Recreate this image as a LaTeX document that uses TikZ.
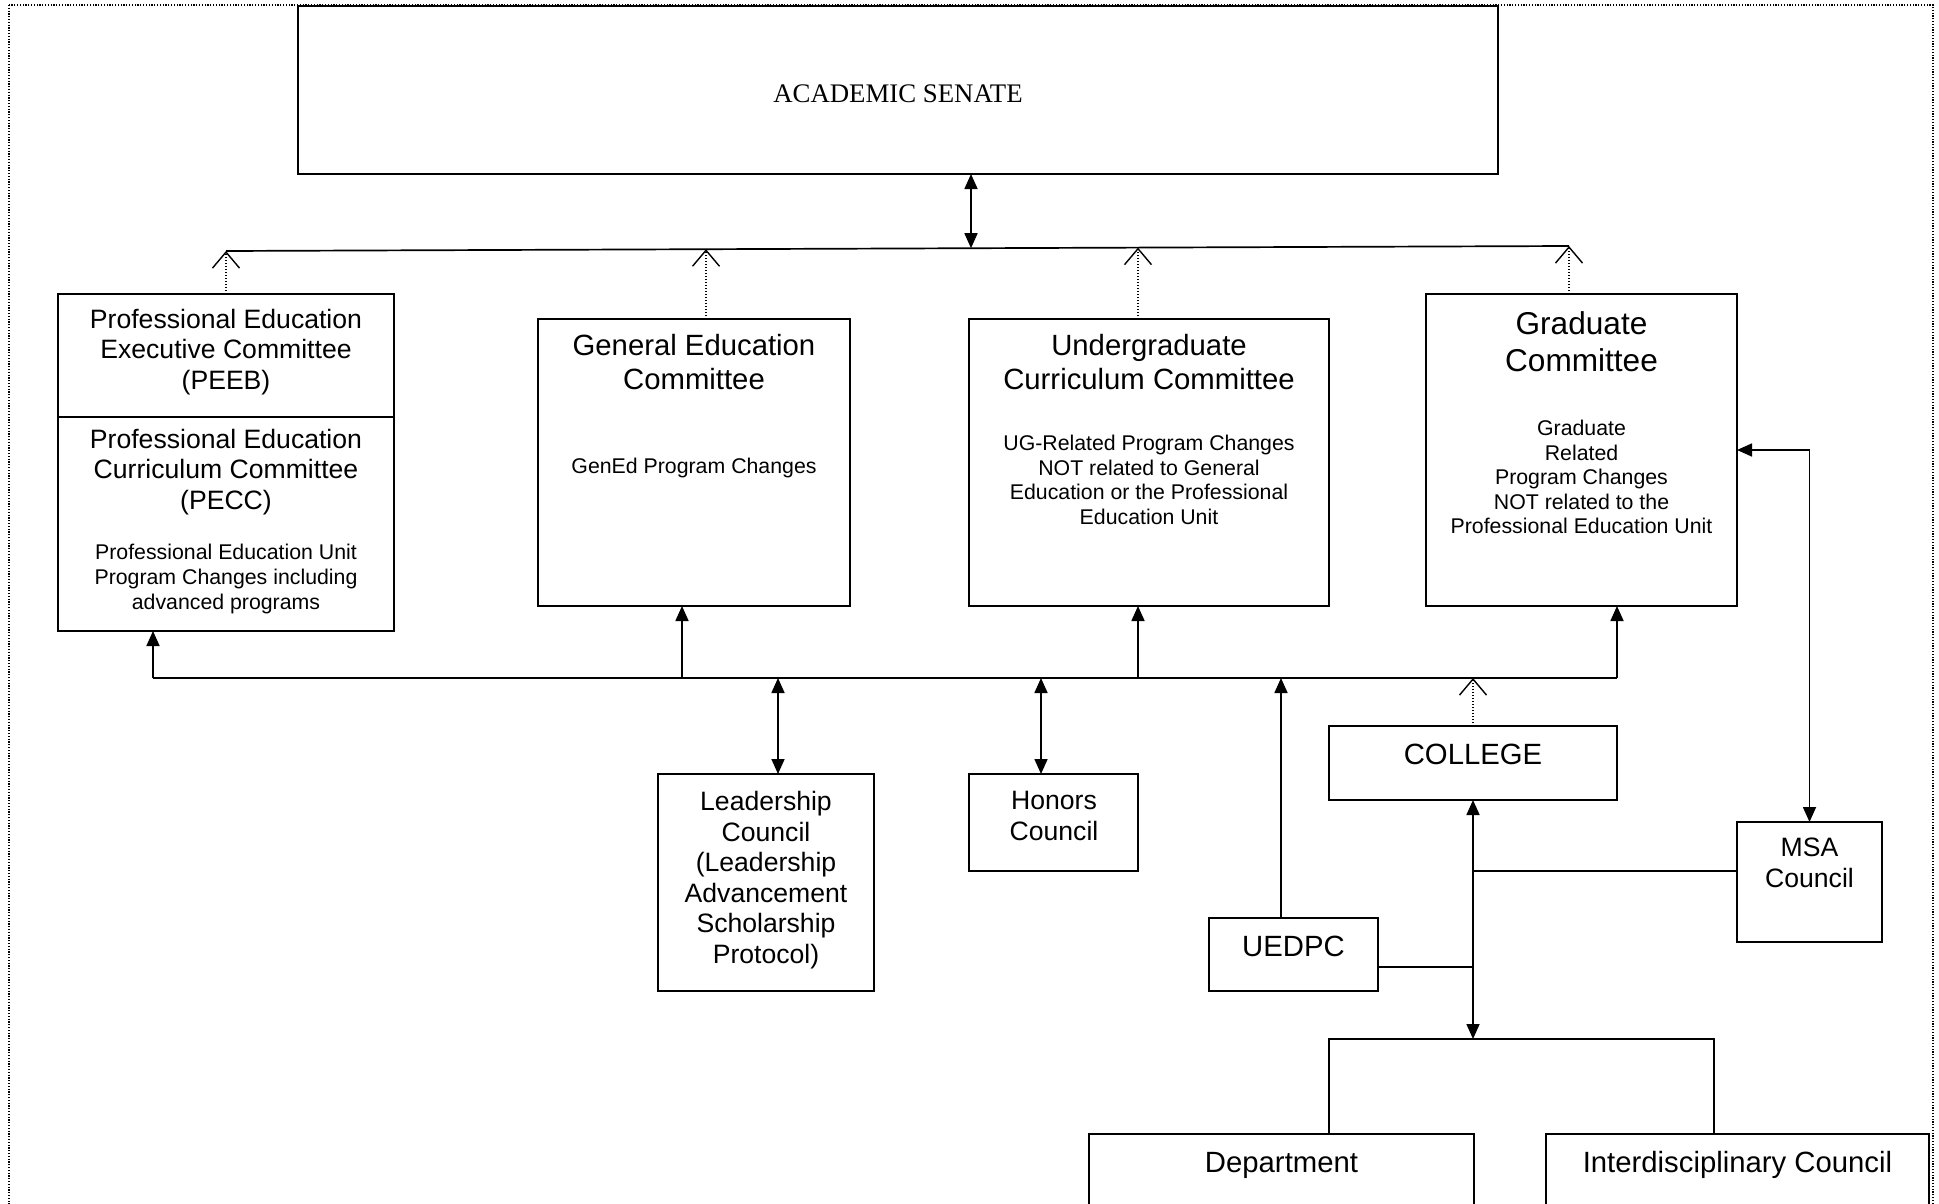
\documentclass[tikz,border=0pt]{standalone}
\usepackage{fontspec}
\setmainfont{Liberation Sans}
\newfontfamily\senatefont{Liberation Serif}
\usetikzlibrary{arrows.meta}
\newcommand\fsBig{\fontsize{31.6pt}{37pt}\selectfont}
\newcommand\fsMid{\fontsize{29.3pt}{34pt}\selectfont}
\newcommand\fsTit{\fontsize{26.6pt}{30.5pt}\selectfont}
\newcommand\fsSm{\fontsize{21.3pt}{24.6pt}\selectfont}
\begin{document}
\begin{tikzpicture}[x=1pt,y=-1pt,
  box/.style={draw, line width=1.8pt, rectangle, inner sep=0pt, outer sep=0pt},
  lbl/.style={align=center, inner sep=0pt},
  conn/.style={line width=1.7pt},
  tri/.tip={Triangle[length=15pt,width=13pt]},
  onetip/.style={conn,-tri},
  twotip/.style={conn,tri-tri},
  dotarrow/.style={line width=1.2pt, dash pattern=on 1.2pt off 1.8pt,
     -{Straight Barb[length=16pt,width=27pt,line width=1.4pt]}},
  border/.style={line width=1.2pt, dash pattern=on 1.2pt off 1.6pt}]
\useasboundingbox (0,0) rectangle (1939,1204);
\clip (0,0) rectangle (1939,1204);
\fill[white] (0,0) rectangle (1939,1204);
\draw[border] (9,5) rectangle (1933,1300);

% boxes
\node[box, minimum width=1200pt, minimum height=168pt] (senate) at (898,90) {};
\node[box, minimum width=336pt, minimum height=123pt] (peeb) at (226,355.5) {};
\node[box, minimum width=336pt, minimum height=214pt] (pecc) at (226,524) {};
\node[box, minimum width=312pt, minimum height=287pt] (gened) at (694,462.5) {};
\node[box, minimum width=360pt, minimum height=287pt] (ucc) at (1149,462.5) {};
\node[box, minimum width=311pt, minimum height=312pt] (grad) at (1581.5,450) {};
\node[box, minimum width=216pt, minimum height=217pt] (lc) at (766,882.5) {};
\node[box, minimum width=169pt, minimum height=97pt] (honors) at (1053.5,822.5) {};
\node[box, minimum width=169pt, minimum height=73pt] (uedpc) at (1293.5,954.5) {};
\node[box, minimum width=288pt, minimum height=74pt] (college) at (1473,763) {};
\node[box, minimum width=145pt, minimum height=120pt] (msa) at (1809.5,882) {};
\node[box, minimum width=385pt, minimum height=146pt] (dept) at (1281.5,1207) {};
\node[box, minimum width=383pt, minimum height=146pt] (inter) at (1737.5,1207) {};

% texts
\node[lbl, font=\senatefont\fontsize{26.8pt}{30pt}\selectfont] (senatet) at (898,94) {ACADEMIC SENATE};
\node[lbl, font=\fsTit] (peebt) at (226,352) {Professional Education\\Executive Committee\\(PEEB)};
\node[lbl, font=\fsTit] (pecct) at (226,472) {Professional Education\\Curriculum Committee\\(PECC)};
\node[lbl, font=\fsSm] (peccs) at (226,579) {Professional Education Unit\\Program Changes including\\advanced programs};
\node[lbl, font=\fsMid] (genedt) at (694,362) {General Education\\Committee};
\node[lbl, font=\fsSm] (geneds) at (694,468) {GenEd Program Changes};
\node[lbl, font=\fsMid] (ucct) at (1149,362) {Undergraduate\\Curriculum Committee};
\node[lbl, font=\fsSm] (uccs) at (1149,480) {UG-Related Program Changes\\NOT related to General\\Education or the Professional\\Education Unit};
\node[lbl, font=\fsBig] (gradt) at (1581.5,342) {Graduate\\Committee};
\node[lbl, font=\fsSm] (grads) at (1581.5,477) {Graduate\\Related\\Program Changes\\NOT related to the\\Professional Education Unit};
\node[lbl, font=\fsTit] (lct) at (766,880) {Leadership\\Council\\(Leadership\\Advancement\\Scholarship\\Protocol)};
\node[lbl, font=\fsTit] (honorst) at (1054,816) {Honors\\Council};
\node[lbl, font=\fsMid] (uedpct) at (1293.5,946) {UEDPC};
\node[lbl, font=\fsMid] (collegt) at (1473,754) {COLLEGE};
\node[lbl, font=\fsTit] (msat) at (1809.5,863) {MSA\\Council};
\node[lbl, font=\fsMid] (deptt) at (1281.5,1165) {Department};
\node[lbl, font=\fsMid] (intert) at (1737.5,1165) {Interdisciplinary Council};

% top line
\coordinate (tL) at (226,251);
\coordinate (t2) at (706,249.2);
\coordinate (tS) at (971,248.2);
\coordinate (t3) at (1138,247.6);
\coordinate (tR) at (1569,246);
\draw[conn] (tL) -- (tR);
\draw[twotip] (senate.south -| tS) -- (tS);
\draw[dotarrow] (peeb.north) -- (tL);
\draw[dotarrow] (gened.north -| t2) -- (t2);
\draw[dotarrow] (ucc.north -| t3) -- (t3);
\draw[dotarrow] (grad.north -| tR) -- (tR);

% bus
\coordinate (bL) at (153,678);
\coordinate (bG) at (682,678);
\coordinate (bLC) at (778,678);
\coordinate (bH) at (1041,678);
\coordinate (bU) at (1138,678);
\coordinate (bE) at (1281,678);
\coordinate (bC) at (1473,678);
\coordinate (bR) at (1617,678);
\draw[conn] (bL) -- (bR);
\draw[onetip] (bL) -- (pecc.south -| bL);
\draw[onetip] (bG) -- (gened.south -| bG);
\draw[onetip] (bU) -- (ucc.south -| bU);
\draw[onetip] (bR) -- (grad.south -| bR);
\draw[twotip] (bLC) -- (lc.north -| bLC);
\draw[twotip] (bH) -- (honors.north -| bH);
\draw[onetip] (uedpc.north -| bE) -- (bE);
\draw[dotarrow] (college.north) -- (bC);

% graduate - MSA
\draw[twotip] (grad.east) -| (msa.north);

% college trunk
\coordinate (brT) at (1473,1039);
\coordinate (brL) at (1329,1039);
\coordinate (brR) at (1714,1039);
\coordinate (jM) at (1473,871);
\coordinate (jU) at (1473,967);
\draw[twotip] (college.south) -- (brT);
\draw[conn] (jM -| msa.west) -- (jM);
\draw[conn] (jU -| uedpc.east) -- (jU);
\draw[conn] (dept.north -| brL) -- (brL) -- (brR) -- (inter.north -| brR);
\end{tikzpicture}
\end{document}
